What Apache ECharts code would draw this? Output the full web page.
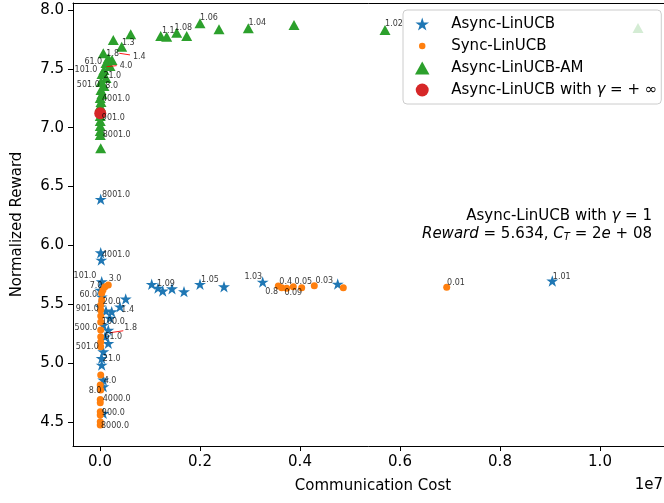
<!DOCTYPE html>
<html>
<head>
<meta charset="utf-8">
<script src="https://cdn.jsdelivr.net/npm/echarts@6/dist/echarts.min.js"></script>
<style>html,body{margin:0;padding:0;background:#fff;}#c{width:664px;height:503px;}</style>
</head>
<body>
<div id="c"></div>
<script>
// ---- data (communication cost, normalized reward) ----
const asyncCost = [14000, 14000, 26000, 34000, 5000, 34000, 514000, 5000, 400000, 234000, 120000, 200000, 66000, 166000, 100000, 166000, 66000, 34000, 34000, 66000, 66000, 66000, 1034000, 1160000, 1254000, 1440000, 1680000, 2000000, 2480000, 3254000, 4754000, 9046000];
const asyncReward = [6.392, 5.938, 5.876, 5.692, 5.621, 5.564, 5.545, 5.479, 5.479, 5.437, 5.443, 5.383, 5.324, 5.281, 5.224, 5.168, 5.097, 5.041, 4.984, 4.857, 4.800, 4.573, 5.670, 5.638, 5.613, 5.632, 5.607, 5.670, 5.649, 5.689, 5.672, 5.698];

const syncCost = [166000, 100000, 60000, 34000, 34000, 14000, 14000, 14000, 14000, 14000, 14000, 14000, 14000, 14000, 5000, 14000, 5000, 5000, 5000, 5000, 5000, 5000, 3566000, 3634000, 3734000, 3866000, 4034000, 4286000, 4866000, 6934000];
const syncReward = [5.664, 5.649, 5.621, 5.593, 5.536, 5.494, 5.451, 5.400, 5.349, 5.281, 5.224, 5.179, 5.139, 4.899, 4.814, 4.771, 4.692, 4.664, 4.587, 4.559, 4.502, 4.474, 5.655, 5.641, 5.636, 5.649, 5.641, 5.658, 5.641, 5.644];

const amCost = [614000, 266000, 434000, 66000, 166000, 240000, 120000, 200000, 80000, 40000, 120000, 20000, 80000, 20000, 40000, 5000, 20000, 5000, 5000, 5000, 5000, 5000, 5000, 5000, 14000, 1214000, 1334000, 1534000, 1734000, 2000000, 2380000, 2966000, 3880000, 5700000, 10760000];
const amReward = [7.794, 7.745, 7.688, 7.632, 7.590, 7.575, 7.550, 7.524, 7.490, 7.456, 7.422, 7.388, 7.354, 7.320, 7.286, 7.252, 7.218, 7.184, 7.150, 7.099, 7.057, 7.014, 6.972, 6.938, 6.825, 7.779, 7.773, 7.807, 7.779, 7.887, 7.836, 7.845, 7.873, 7.830, 7.847];

const infCost = [5000];
const infReward = [7.122];

// annotation texts and their positions (data units)
const annoText = ['1.3','1.8','1.4','61.0','4.0','101.0','21.0','501.0','8.0','4001.0','901.0','8001.0','1.1','1.08','1.06','1.04','1.02',
  '8001.0','4001.0','101.0','901.0','1.4','500.0','1.8','61.0','501.0','21.0','1.09','1.05','1.03','1.01',
  '3.0','7.0','60.0','20.0','100.0','4.0','8.0','4000.0','900.0','8000.0','0.8','0.4','0.09','0.05','0.03','0.01'];
const annoCost = [566000, 254000, 786000, -134000, 520000, -280000, 246000, -234000, 234000, 320000, 266000, 334000, 1366000, 1666000, 2180000, 3146000, 5880000,
  320000, 320000, -300000, -254000, 554000, -280000, 614000, 266000, -254000, 234000, 1320000, 2200000, 3066000, 9234000,
  300000, -80000, -234000, 234000, 266000, 200000, -100000, 334000, 266000, 300000, 3434000, 3714000, 3866000, 4066000, 4486000, 7120000];
const annoReward = [7.722, 7.624, 7.603, 7.561, 7.527, 7.488, 7.437, 7.360, 7.354, 7.246, 7.080, 6.941, 7.824, 7.847, 7.929, 7.887, 7.879,
  6.431, 5.921, 5.740, 5.460, 5.454, 5.296, 5.296, 5.219, 5.134, 5.037, 5.670, 5.706, 5.734, 5.734,
  5.712, 5.655, 5.579, 5.522, 5.352, 4.850, 4.763, 4.692, 4.579, 4.468, 5.607, 5.692, 5.593, 5.692, 5.700, 5.683];

// visible red arrow segments (point -> text)
const arrowFromCost = [386000, 134000, 200000];
const arrowFromReward = [7.632, 7.518, 5.258];
const arrowToCost = [600000, 334000, 466000];
const arrowToReward = [7.618, 7.527, 5.275];

const xTicks = [0, 2000000, 4000000, 6000000, 8000000, 10000000];
const yTicks = [4.5, 5.0, 5.5, 6.0, 6.5, 7.0, 7.5, 8.0];

const seriesNames = ['Async-LinUCB', 'Sync-LinUCB', 'Async-LinUCB-AM', 'Async-LinUCB with \u03b3 = + \u221e'];

const zip = (a, b) => a.map((v, i) => [v, b[i]]);
const FONT = 'DejaVu Sans';
const STAR = 'path://M0,-100 L22.45,-30.9 L95.11,-30.9 L36.33,11.8 L58.78,80.9 L0,38.2 L-58.78,80.9 L-36.33,11.8 L-95.11,-30.9 L-22.45,-30.9 Z';
const SMALLCIRCLE = 'path://M-6,-6 M6,6 M3,0 A3,3 0 1 1 -3,0 A3,3 0 1 1 3,0 Z';
const TRI = 'path://M0,-10 L10,8 L-10,8 Z';
const X_MIN = -540000, X_MAX = 11460000;

const chart = echarts.init(document.getElementById('c'), null, {renderer: 'canvas'});
const option = {
  animation: false,
  textStyle: {fontFamily: FONT},
  grid: {left: 73, top: 3, width: 600, bottom: 57, outerBoundsMode: 'none', containLabel: false, show: false},
  legend: {
    left: 403, top: 10, orient: 'vertical',
    padding: [6, 4, 6, 12], itemGap: 6, itemWidth: 28, itemHeight: 13,
    backgroundColor: 'rgba(255,255,255,0.8)', borderColor: '#cccccc', borderWidth: 1, borderRadius: 4,
    textStyle: {fontSize: 15, color: '#000', fontFamily: FONT, lineHeight: 16, padding: [0, 0, 0, 10],
      rich: {i: {fontStyle: 'italic', fontSize: 15, fontFamily: FONT, color: '#000'}}},
    formatter: function (name) {
      if (name === seriesNames[3]) return 'Async-LinUCB with {i|\u03b3} = + \u221e';
      return name;
    },
    data: [
      {name: seriesNames[0], icon: STAR},
      {name: seriesNames[1], icon: SMALLCIRCLE},
      {name: seriesNames[2], icon: TRI},
      {name: seriesNames[3], icon: 'circle'}
    ]
  },
  xAxis: [{
    type: 'value', min: X_MIN, max: X_MAX,
    axisLine: {show: true, onZero: false, lineStyle: {color: '#000', width: 1}},
    axisTick: {show: true, length: 5, customValues: xTicks, lineStyle: {color: '#000', width: 1}},
    axisLabel: {customValues: xTicks, formatter: v => (v / 1e7).toFixed(1), fontSize: 15, color: '#000', margin: 9, fontFamily: FONT},
    splitLine: {show: false},
    name: 'Communication Cost', nameLocation: 'middle', nameGap: 33,
    nameTextStyle: {fontSize: 15, color: '#000', fontFamily: FONT}
  }, {
    type: 'value', position: 'top', min: X_MIN, max: X_MAX,
    axisLine: {show: true, onZero: false, lineStyle: {color: '#000', width: 1}},
    axisTick: {show: false}, axisLabel: {show: false}, splitLine: {show: false}
  }],
  yAxis: {
    type: 'value', min: 4.296, max: 8.059,
    axisLine: {show: true, onZero: false, lineStyle: {color: '#000', width: 1}},
    axisTick: {show: true, length: 5, customValues: yTicks, lineStyle: {color: '#000', width: 1}},
    axisLabel: {customValues: yTicks, formatter: v => v.toFixed(1), fontSize: 15, color: '#000', margin: 9, fontFamily: FONT},
    splitLine: {show: false},
    name: 'Normalized Reward', nameLocation: 'middle', nameGap: 48,
    nameTextStyle: {fontSize: 15, color: '#000', fontFamily: FONT}
  },
  series: [
    {name: seriesNames[0], type: 'scatter', symbol: STAR, symbolKeepAspect: true, symbolSize: 12,
      itemStyle: {color: '#1f77b4', opacity: 1}, data: zip(asyncCost, asyncReward), z: 2},
    {name: seriesNames[1], type: 'scatter', symbol: 'circle', symbolSize: 7,
      itemStyle: {color: '#ff7f0e', opacity: 1}, data: zip(syncCost, syncReward), z: 2},
    {name: seriesNames[2], type: 'scatter', symbol: 'triangle', symbolSize: [11, 10],
      itemStyle: {color: '#2ca02c', opacity: 1}, data: zip(amCost, amReward), z: 2},
    {name: seriesNames[3], type: 'scatter', symbol: 'circle', symbolSize: 12,
      itemStyle: {color: '#d62728', opacity: 1}, data: zip(infCost, infReward), z: 2},
    {type: 'lines', coordinateSystem: 'cartesian2d', silent: true, z: 3,
      lineStyle: {color: '#ff0000', width: 1, opacity: 0.9},
      data: arrowFromCost.map((c, i) => ({coords: [[c, arrowFromReward[i]], [arrowToCost[i], arrowToReward[i]]]}))},
    {type: 'scatter', silent: true, z: 3, symbolSize: 1, itemStyle: {color: 'rgba(0,0,0,0)'},
      label: {show: true, position: 'inside', formatter: '{b}', fontSize: 8, color: '#000', fontFamily: FONT, align: 'center', verticalAlign: 'middle'},
      data: annoText.map((t, i) => ({name: t, value: [annoCost[i], annoReward[i]]}))}
  ],
  graphic: [
    {type: 'text', silent: true, style: {x: 652, y: 216, text: 'Async-LinUCB with {i|\u03b3} = 1', align: 'right', verticalAlign: 'middle',
      font: '15px "DejaVu Sans"', fill: '#000', rich: {i: {fontStyle: 'italic', fontSize: 15, fontFamily: FONT, fill: '#000'}}}},
    {type: 'text', silent: true, style: {x: 652, y: 234, text: '{i|Reward} = 5.634, {i|C}{s|T} = 2{i|e} + 08', align: 'right', verticalAlign: 'middle',
      font: '15px "DejaVu Sans"', fill: '#000',
      rich: {i: {fontStyle: 'italic', fontSize: 15, fontFamily: FONT, fill: '#000'},
             s: {fontStyle: 'italic', fontSize: 10, fontFamily: FONT, fill: '#000', verticalAlign: 'bottom', padding: [6, 0, 0, 0]}}}},
    {type: 'text', silent: true, style: {x: 663, y: 485, text: '1e7', align: 'right', verticalAlign: 'middle', font: '15px "DejaVu Sans"', fill: '#000'}}
  ]
};
chart.setOption(option);
</script>
</body>
</html>
